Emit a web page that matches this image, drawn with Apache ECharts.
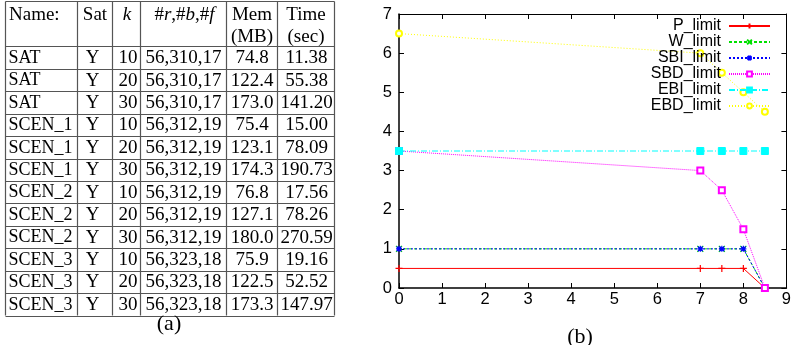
<!DOCTYPE html>
<html>
<head>
<meta charset="utf-8">
<script src="https://cdn.jsdelivr.net/npm/echarts@6/dist/echarts.min.js"></script>
<style>
  html, body { margin: 0; padding: 0; background: #fff; }
  #chart { width: 794px; height: 345px; }
</style>
</head>
<body>
<div id="chart"></div>
<script>
// table (a)
const tableHeader = [["Name:"], ["Sat"], ["{i|k}"], ["#{i|r},#{i|b},#{i|f}"], ["Mem", "(MB)"], ["Time", "(sec)"]];
const names = ["SAT", "SAT", "SAT", "SCEN_1", "SCEN_1", "SCEN_1", "SCEN_2", "SCEN_2", "SCEN_2", "SCEN_3", "SCEN_3", "SCEN_3"];
const satValues = ["Y", "Y", "Y", "Y", "Y", "Y", "Y", "Y", "Y", "Y", "Y", "Y"];
const kValues = ["10", "20", "30", "10", "20", "30", "10", "20", "30", "10", "20", "30"];
const rbfValues = ["56,310,17", "56,310,17", "56,310,17", "56,312,19", "56,312,19", "56,312,19",
  "56,312,19", "56,312,19", "56,312,19", "56,323,18", "56,323,18", "56,323,18"];
const memValues = ["74.8", "122.4", "173.0", "75.4", "123.1", "174.3", "76.8", "127.1", "180.0", "75.9", "122.5", "173.3"];
const timeValues = ["11.38", "55.38", "141.20", "15.00", "78.09", "190.73", "17.56", "78.26", "270.59", "19.16", "52.52", "147.97"];

// plot (b)
const xValues = [0, 7, 7.5, 8, 8.5];
const pLimit = [0.5, 0.5, 0.5, 0.5, 0];
const wLimit = [1, 1, 1, 1, 0];
const sbiLimit = [1, 1, 1, 1, 0];
const sbdLimit = [3.5, 3, 2.5, 1.5, 0];
const ebiLimit = [3.5, 3.5, 3.5, 3.5, 3.5];
const ebdLimit = [6.5, 6, 5.5, 5, 4.5];
const xTicks = [0, 9, 1];
const yTicks = [0, 7, 1];

const SERIF = "'Liberation Serif', 'DejaVu Serif', serif";
const SANS = "'Liberation Sans', Arial, sans-serif";

function buildTable() {
  const colX = [5.5, 77.5, 112.5, 140.5, 226.5, 277.5, 334.5];
  const topY = 1.5;
  const headY = 46.5;
  const rowH = 22.42;
  const bottomY = headY + rowH * names.length;
  const lineColor = "#555";
  const els = [];

  // vertical rules
  colX.forEach(x => {
    els.push({ type: "line", shape: { x1: x, y1: topY, x2: x, y2: bottomY }, style: { stroke: lineColor, lineWidth: 1.2 } });
  });
  // horizontal rules
  const ys = [topY, headY];
  for (let i = 1; i <= names.length; i++) ys.push(Math.round(headY + rowH * i) + 0.5);
  ys.forEach(y => {
    els.push({ type: "line", shape: { x1: colX[0], y1: y, x2: colX[colX.length - 1], y2: y }, style: { stroke: lineColor, lineWidth: 1.2 } });
  });

  const rich = { i: { fontStyle: "italic", fontSize: 19, fontFamily: SERIF, fill: "#000" } };
  const textEl = (text, x, y, align, size) => ({
    type: "text",
    x: x,
    y: y,
    style: { text: text, font: size + "px " + SERIF, fill: "#000", textAlign: align, textVerticalAlign: "middle", rich: rich }
  });

  const headPos = [[9, "left"], [95, "center"], [127, "center"], [184.5, "center"], [252, "center"], [306, "center"]];
  tableHeader.forEach((lines, c) => {
    lines.forEach((t, l) => {
      els.push(textEl(t, headPos[c][0], 15 + l * 22, headPos[c][1], 19));
    });
  });

  const cols = [
    [names, 8.5, "left", 18],
    [satValues, 92.5, "center", 19],
    [kValues, 137.5, "right", 19],
    [rbfValues, 183.5, "center", 19],
    [memValues, 252, "center", 19],
    [timeValues, 306.5, "center", 19]
  ];
  names.forEach((_, r) => {
    const cy = headY + rowH * r + rowH / 2 + 0.5;
    cols.forEach(([arr, x, align, size]) => {
      els.push(textEl(arr[r], x, cy, align, size));
    });
  });

  els.push({ type: "text", x: 169, y: 324, style: { text: "(a)", font: "22px " + SERIF, fill: "#000", textAlign: "center", textVerticalAlign: "middle" } });
  els.push({ type: "text", x: 580, y: 337, style: { text: "(b)", font: "22px " + SERIF, fill: "#000", textAlign: "center", textVerticalAlign: "middle" } });
  return els;
}

function pairs(ys) {
  return xValues.map((x, i) => [x, ys[i]]);
}

function axisCommon(min, max, interval, showLabel, width) {
  return {
    type: "value",
    min: min,
    max: max,
    interval: interval,
    axisLine: { show: true, onZero: false, lineStyle: { color: "#000", width: width } },
    axisTick: { show: true, inside: true, length: 5, lineStyle: { color: "#000", width: 1 } },
    axisLabel: { show: showLabel, color: "#000", fontSize: 16.5, fontFamily: SANS },
    splitLine: { show: false }
  };
}

const PLUS = "path://M0,5L10,5M5,0L5,10";
const CROSS = "path://M0,0L10,10M10,0L0,10";
const STAR = "path://M0,5L10,5M5,0L5,10M1,1L9,9M9,1L1,9";

const seriesDefs = [
  { name: "P_limit", data: pLimit, color: "#ff0000", symbol: PLUS, size: 7, stroke: true, type: "solid" },
  { name: "W_limit", data: wLimit, color: "#00e000", symbol: CROSS, size: 6, stroke: true, type: [3, 2] },
  { name: "SBI_limit", data: sbiLimit, color: "#0000ff", symbol: STAR, size: 6, stroke: true, type: [2, 2] },
  { name: "SBD_limit", data: sbdLimit, color: "#ff00ff", symbol: "emptyRect", size: 6, stroke: false, type: [1, 1] },
  { name: "EBI_limit", data: ebiLimit, color: "#00ffff", symbol: "rect", size: 7, stroke: false, type: [6, 2, 1, 2] },
  { name: "EBD_limit", data: ebdLimit, color: "#ffff00", symbol: "emptyCircle", size: 6, stroke: false, type: [1, 2] }
];

const series = seriesDefs.map(d => ({
  name: d.name,
  type: "line",
  xAxisIndex: 0,
  yAxisIndex: 0,
  data: pairs(d.data),
  symbol: d.symbol,
  symbolSize: d.size,
  color: d.color,
  lineStyle: { color: d.color, width: 1, type: d.type },
  itemStyle: d.stroke
    ? { color: d.color, borderColor: d.color, borderWidth: 1.2 }
    : { color: d.color, borderColor: d.color, borderWidth: 1 },
  emphasis: { disabled: true },
  z: 3
}));

const option = {
  animation: false,
  backgroundColor: "#fff",
  grid: { left: 399, right: 6, top: 14, bottom: 57, containLabel: false },
  xAxis: [
    Object.assign(axisCommon(xTicks[0], xTicks[1], xTicks[2], true, 1.5), { position: "bottom" }),
    Object.assign(axisCommon(xTicks[0], xTicks[1], xTicks[2], false, 1), { position: "top" })
  ],
  yAxis: [
    Object.assign(axisCommon(yTicks[0], yTicks[1], yTicks[2], true, 1.5), { position: "left" }),
    Object.assign(axisCommon(yTicks[0], yTicks[1], yTicks[2], false, 1), { position: "right" })
  ],
  legend: {
    orient: "vertical",
    align: "right",
    right: 23,
    top: 18,
    padding: 0,
    itemWidth: 41,
    itemHeight: 6,
    itemGap: 0,
    textStyle: { color: "#000", fontSize: 16, fontFamily: SANS, lineHeight: 15.4, padding: [0, 3, 0, 0] },
    data: seriesDefs.map(d => d.name)
  },
  series: series,
  graphic: buildTable()
};

option.xAxis[0].axisLabel.margin = 3;
option.yAxis[0].axisLabel.margin = 7;

const chart = echarts.init(document.getElementById("chart"));
chart.setOption(option);
</script>
</body>
</html>
